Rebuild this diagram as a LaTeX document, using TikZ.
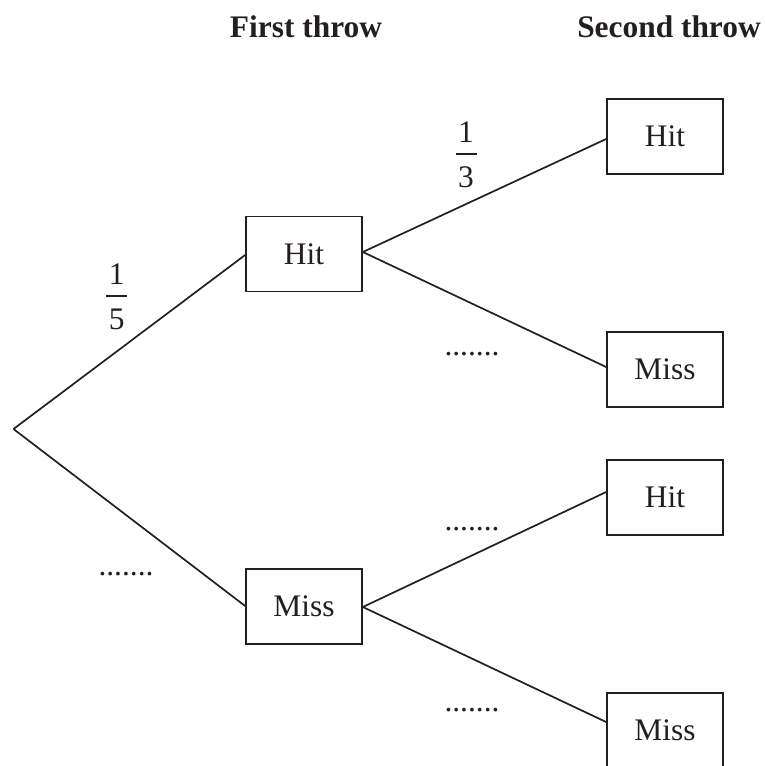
\documentclass[tikz,border=0pt]{standalone}
\usepackage{fontspec}
\setmainfont{Liberation Serif}
\definecolor{ink}{RGB}{35,31,32}
\newcommand{\fracbox}[2]{\vbox{\hbox to 21pt{\hss#1\hss}\kern10.5pt\hrule height 1.5pt\kern12pt\hbox to 21pt{\hss#2\hss}}}
\begin{document}
\begin{tikzpicture}[x=1pt,y=-1pt,
  every node/.style={text=ink},
  boxnode/.style={draw=ink,line width=1.7pt,minimum width=116pt,minimum height=75pt,inner sep=0pt,font=\fontsize{31.4}{36}\selectfont},
  txt/.style={font=\fontsize{31.4}{36}\selectfont,inner sep=0pt},
  head/.style={font=\fontsize{31.4}{36}\selectfont\bfseries,inner sep=0pt,anchor=base},
  branch/.style={draw=ink,line width=1.7pt}]
\useasboundingbox (0,0) rectangle (765,766);
% headings
\node[head] (h1) at (306,37) {First throw};
\node[head] (h2) at (669,37) {Second throw};
% root
\coordinate (root) at (13.5,429);
% first level
\node[boxnode] (A) at (304,254) {Hit};
\node[boxnode] (B) at (304,606.5) {Miss};
% second level
\node[boxnode] (AA) at (665,136.5) {Hit};
\node[boxnode] (AB) at (665,369.5) {Miss};
\node[boxnode] (BA) at (665,497.5) {Hit};
\node[boxnode] (BB) at (665,730.5) {Miss};
% branches
\draw[branch] (root) -- ([yshift=-1pt]A.west);
\draw[branch] (root) -- ([yshift=0.5pt]B.west);
\draw[branch] ([yshift=2pt]A.east) -- ([yshift=-2.5pt]AA.west);
\draw[branch] ([yshift=2pt]A.east) -- ([yshift=2.5pt]AB.west);
\draw[branch] ([yshift=-0.5pt]B.east) -- ([yshift=5.5pt]BA.west);
\draw[branch] ([yshift=-0.5pt]B.east) -- ([yshift=8.5pt]BB.west);
% labels
\node[txt,anchor=north] (p1) at (116.7,264) {\fracbox{1}{5}};
\node[txt,anchor=north] (p2) at (466,122) {\fracbox{1}{3}};
\node[txt,anchor=base] (d1) at (126,575) {.......};
\node[txt,anchor=base] (d2) at (472,355) {.......};
\node[txt,anchor=base] (d3) at (472,530) {.......};
\node[txt,anchor=base] (d4) at (472,711) {.......};
\end{tikzpicture}
\end{document}
